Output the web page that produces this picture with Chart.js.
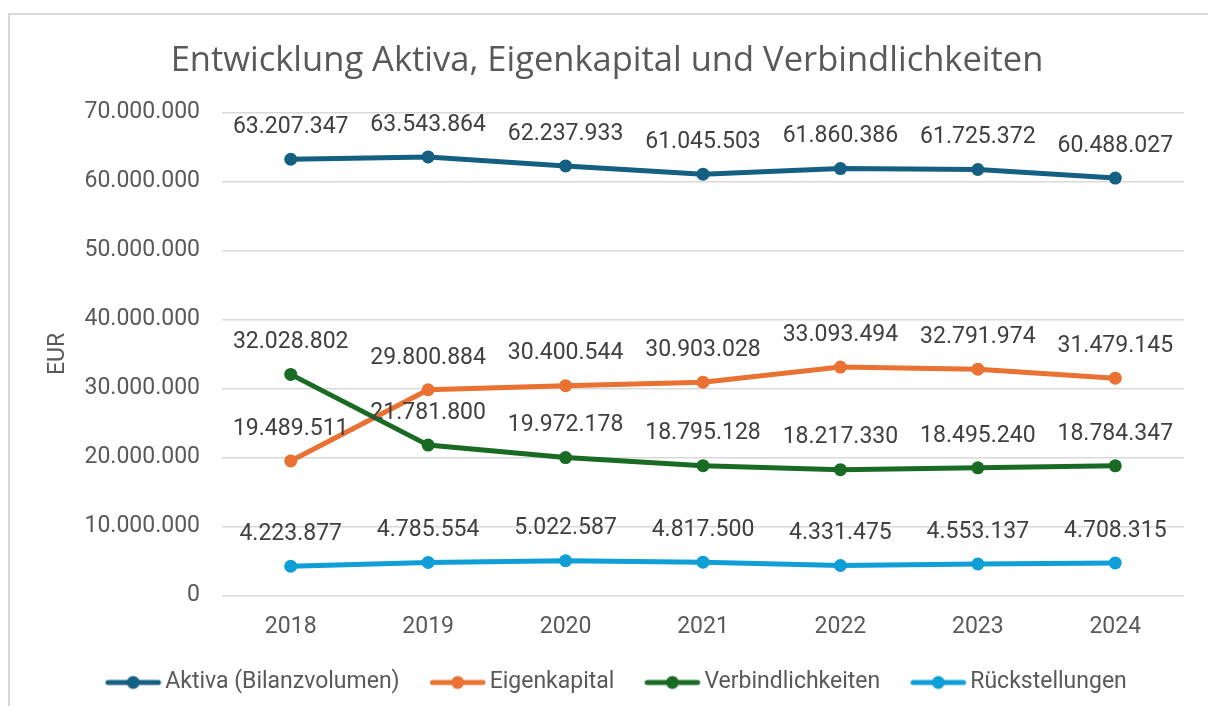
<!DOCTYPE html>
<html lang="de">
<head>
<meta charset="utf-8">
<title>Entwicklung Aktiva, Eigenkapital und Verbindlichkeiten</title>
<script src="https://cdn.jsdelivr.net/npm/chart.js@4.4.1/dist/chart.umd.min.js"></script>
<style>
  html, body { margin: 0; padding: 0; background: #fff; overflow: hidden; }
  #wrap { position: relative; width: 1208px; height: 706px; }
  #frame { position: absolute; left: 8px; top: 13px; width: 1210px; height: 710px;
           border: 2px solid #d9d9d9; pointer-events: none; }
</style>
</head>
<body>
<div id="wrap">
  <canvas id="chart" width="1208" height="706"></canvas>
  <div id="frame"></div>
</div>
<script>
// values
const years = ['2018', '2019', '2020', '2021', '2022', '2023', '2024'];
const seriesNames = ['Aktiva (Bilanzvolumen)', 'Eigenkapital', 'Verbindlichkeiten', 'Rückstellungen'];
const aktiva = [63207347, 63543864, 62237933, 61045503, 61860386, 61725372, 60488027];
const eigenkapital = [19489511, 29800884, 30400544, 30903028, 33093494, 32791974, 31479145];
const verbindlichkeiten = [32028802, 21781800, 19972178, 18795128, 18217330, 18495240, 18784347];
const rueckstellungen = [4223877, 4785554, 5022587, 4817500, 4331475, 4553137, 4708315];
const yTicks = [0, 10000000, 20000000, 30000000, 40000000, 50000000, 60000000, 70000000];

const colors = ['#156082', '#E97132', '#196B24', '#0F9ED5'];
const textColor = '#595959';
const fontFamily = 'Roboto, "Liberation Sans", sans-serif';

// 63207347 -> "63.207.347"
function fmt(v) {
    return String(Math.round(v)).replace(/\B(?=(\d{3})+(?!\d))/g, '.');
}

// line-with-dot key for the legend; the empty left part makes the gap between items
function legendIcon(color) {
    const c = document.createElement('canvas');
    c.width = 84;
    c.height = 16;
    const g = c.getContext('2d');
    g.strokeStyle = color;
    g.lineWidth = 5;
    g.lineCap = 'round';
    g.beginPath();
    g.moveTo(29.5, 8);
    g.lineTo(80, 8);
    g.stroke();
    g.fillStyle = color;
    g.beginPath();
    g.arc(54.75, 8, 6.5, 0, Math.PI * 2);
    g.fill();
    return c;
}

// draws the value above every point
const valueLabels = {
    id: 'valueLabels',
    afterDatasetsDraw(chart) {
        const ctx = chart.ctx;
        ctx.save();
        ctx.font = '23px ' + fontFamily;
        ctx.fillStyle = '#404040';
        ctx.textAlign = 'center';
        ctx.textBaseline = 'middle';
        chart.data.datasets.forEach((ds, i) => {
            const meta = chart.getDatasetMeta(i);
            meta.data.forEach((pt, j) => {
                ctx.fillText(fmt(ds.data[j]), pt.x, pt.y - 32);
            });
        });
        ctx.restore();
    }
};

const seriesData = [aktiva, eigenkapital, verbindlichkeiten, rueckstellungen];

const datasets = seriesData.map((values, i) => ({
    label: seriesNames[i],
    data: values,
    borderColor: colors[i],
    backgroundColor: colors[i],
    borderWidth: 5,
    pointRadius: 6.5,
    pointHoverRadius: 6.5,
    pointBorderWidth: 0,
    tension: 0,
    order: seriesData.length - i   // later series on top, like excel
}));

new Chart(document.getElementById('chart'), {
    type: 'line',
    data: { labels: years, datasets: datasets },
    plugins: [valueLabels],
    options: {
        responsive: false,
        animation: false,
        layout: { padding: { top: 10, left: 30, right: 24, bottom: 2 } },
        plugins: {
            title: {
                display: true,
                text: 'Entwicklung Aktiva, Eigenkapital und Verbindlichkeiten',
                color: textColor,
                font: { family: '"Open Sans", ' + fontFamily, size: 34.5, weight: 'normal' },
                padding: { top: 30, bottom: 31 }
            },
            legend: {
                position: 'bottom',
                labels: {
                    color: textColor,
                    font: { family: fontFamily, size: 23 },
                    usePointStyle: true,
                    pointStyleWidth: 66.5,
                    padding: 12,
                    generateLabels(chart) {
                        return chart.data.datasets.map((ds, i) => ({
                            text: ds.label,
                            fontColor: textColor,
                            pointStyle: legendIcon(colors[i]),
                            fillStyle: colors[i],
                            strokeStyle: colors[i],
                            lineWidth: 0,
                            hidden: false,
                            datasetIndex: i
                        }));
                    }
                }
            },
            tooltip: { enabled: false }
        },
        scales: {
            x: {
                offset: true,
                grid: { display: false, drawTicks: false },
                border: { display: false },
                ticks: {
                    color: textColor,
                    font: { family: fontFamily, size: 23 },
                    padding: 18
                }
            },
            y: {
                min: yTicks[0],
                max: yTicks[yTicks.length - 1],
                afterFit(scale) { scale.width = 192; },
                afterBuildTicks(scale) { scale.ticks = yTicks.map(v => ({ value: v })); },
                grid: { color: '#d9d9d9', lineWidth: 1.5, drawTicks: false },
                border: { display: false },
                ticks: {
                    color: textColor,
                    font: { family: fontFamily, size: 23 },
                    padding: 22,
                    callback: v => fmt(v)
                },
                title: {
                    display: true,
                    text: 'EUR',
                    color: textColor,
                    font: { family: fontFamily, size: 23 },
                    padding: { top: 14, bottom: 0 }
                }
            }
        }
    }
});
</script>
</body>
</html>
